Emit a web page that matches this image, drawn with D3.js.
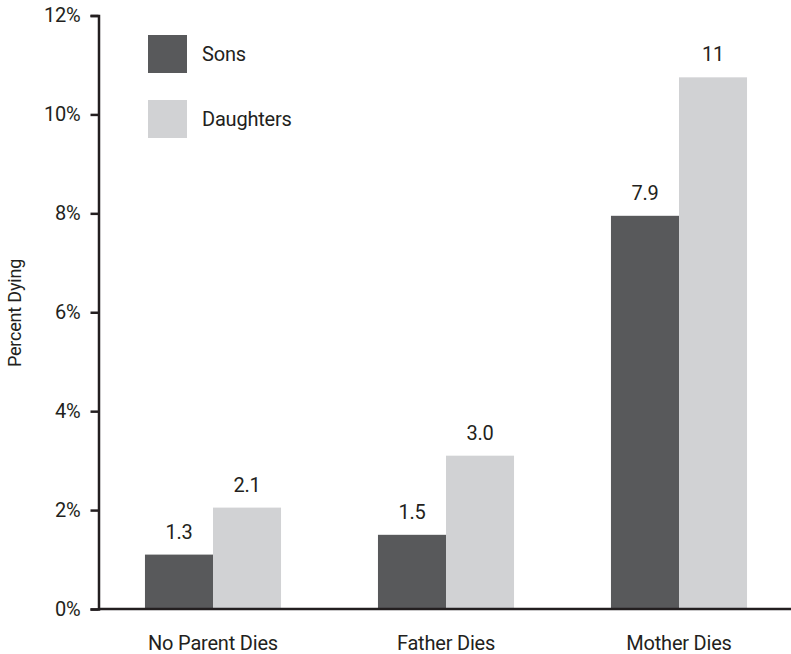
<!DOCTYPE html>
<html>
<head>
<meta charset="utf-8">
<script src="https://cdn.jsdelivr.net/npm/d3@7"></script>
<style>
    body { margin: 0; background: #fff; }
    svg text { font-family: Roboto, "DejaVu Sans", sans-serif; fill: #231f20; letter-spacing: -0.2px; }
</style>
</head>
<body>
<svg id="chart" width="791" height="654"></svg>
<script>
// chart data
var categories = ['No Parent Dies', 'Father Dies', 'Mother Dies'];
var seriesNames = ['Sons', 'Daughters'];
var sonsValues = [1.1, 1.5, 7.95];
var daughtersValues = [2.05, 3.1, 10.75];
var sonsLabels = ['1.3', '1.5', '7.9'];
var daughtersLabels = ['2.1', '3.0', '11'];
var yTicks = [0, 2, 4, 6, 8, 10, 12];

var colors = {Sons: '#58595b', Daughters: '#d1d2d4'};
var ink = '#231f20';
var font = 'Roboto, "DejaVu Sans", sans-serif';

var svg = d3.select('#chart');

var x = d3.scaleBand()
    .domain(categories)
    .range([96.5, 795.5])
    .paddingInner(0.416)
    .paddingOuter(0.208);

var xInner = d3.scaleBand()
    .domain(seriesNames)
    .range([0, x.bandwidth()]);

var y = d3.scaleLinear()
    .domain([0, 12])
    .range([609, 15.5]);

var rows = categories.map(function (c, i) {
    return {
        category: c,
        bars: [
            {series: 'Sons', value: sonsValues[i], label: sonsLabels[i]},
            {series: 'Daughters', value: daughtersValues[i], label: daughtersLabels[i]}
        ]
    };
});

// bars
var groups = svg.append('g')
    .selectAll('g')
    .data(rows)
    .join('g')
    .attr('transform', function (d) { return 'translate(' + x(d.category) + ',0)'; });

groups.selectAll('rect')
    .data(function (d) { return d.bars; })
    .join('rect')
    .attr('x', function (d) { return xInner(d.series); })
    .attr('y', function (d) { return y(d.value); })
    .attr('width', xInner.bandwidth())
    .attr('height', function (d) { return y(0) - y(d.value); })
    .attr('fill', function (d) { return colors[d.series]; });

groups.selectAll('text')
    .data(function (d) { return d.bars; })
    .join('text')
    .attr('x', function (d) { return xInner(d.series) + xInner.bandwidth() / 2; })
    .attr('y', function (d) { return y(d.value) - 16; })
    .attr('text-anchor', 'middle')
    .style('font-size', '20px')
    .text(function (d) { return d.label; });

// y axis
var yAxis = d3.axisLeft(y)
    .tickValues(yTicks)
    .tickSize(8)
    .tickPadding(10)
    .tickFormat(function (d) { return d + '%'; });

var gy = svg.append('g')
    .attr('transform', 'translate(98.5,0)')
    .call(yAxis);

gy.selectAll('path, line')
    .attr('stroke', ink)
    .attr('stroke-width', 2.5);
gy.selectAll('text')
    .attr('fill', ink)
    .style('font-size', '20px')
    .style('font-family', font);

// baseline
svg.append('line')
    .attr('x1', 98.5)
    .attr('x2', 791)
    .attr('y1', y(0))
    .attr('y2', y(0))
    .attr('stroke', ink)
    .attr('stroke-width', 2.5);

// category labels
svg.append('g')
    .selectAll('text')
    .data(categories)
    .join('text')
    .attr('x', function (d) { return x(d) + x.bandwidth() / 2; })
    .attr('y', y(0) + 41)
    .attr('text-anchor', 'middle')
    .style('font-size', '20px')
    .text(function (d) { return d; });

// y title
svg.append('text')
    .attr('transform', 'translate(21,313) rotate(-90)')
    .attr('text-anchor', 'middle')
    .style('font-size', '18px')
    .text('Percent Dying');

// legend
var legend = svg.append('g')
    .selectAll('g')
    .data(seriesNames)
    .join('g')
    .attr('transform', function (d, i) { return 'translate(148,' + (35 + i * 65) + ')'; });

legend.append('rect')
    .attr('width', 39)
    .attr('height', 38)
    .attr('fill', function (d) { return colors[d]; });

legend.append('text')
    .attr('x', 54)
    .attr('y', 19)
    .attr('dy', '0.35em')
    .style('font-size', '20px')
    .text(function (d) { return d; });
</script>
</body>
</html>
